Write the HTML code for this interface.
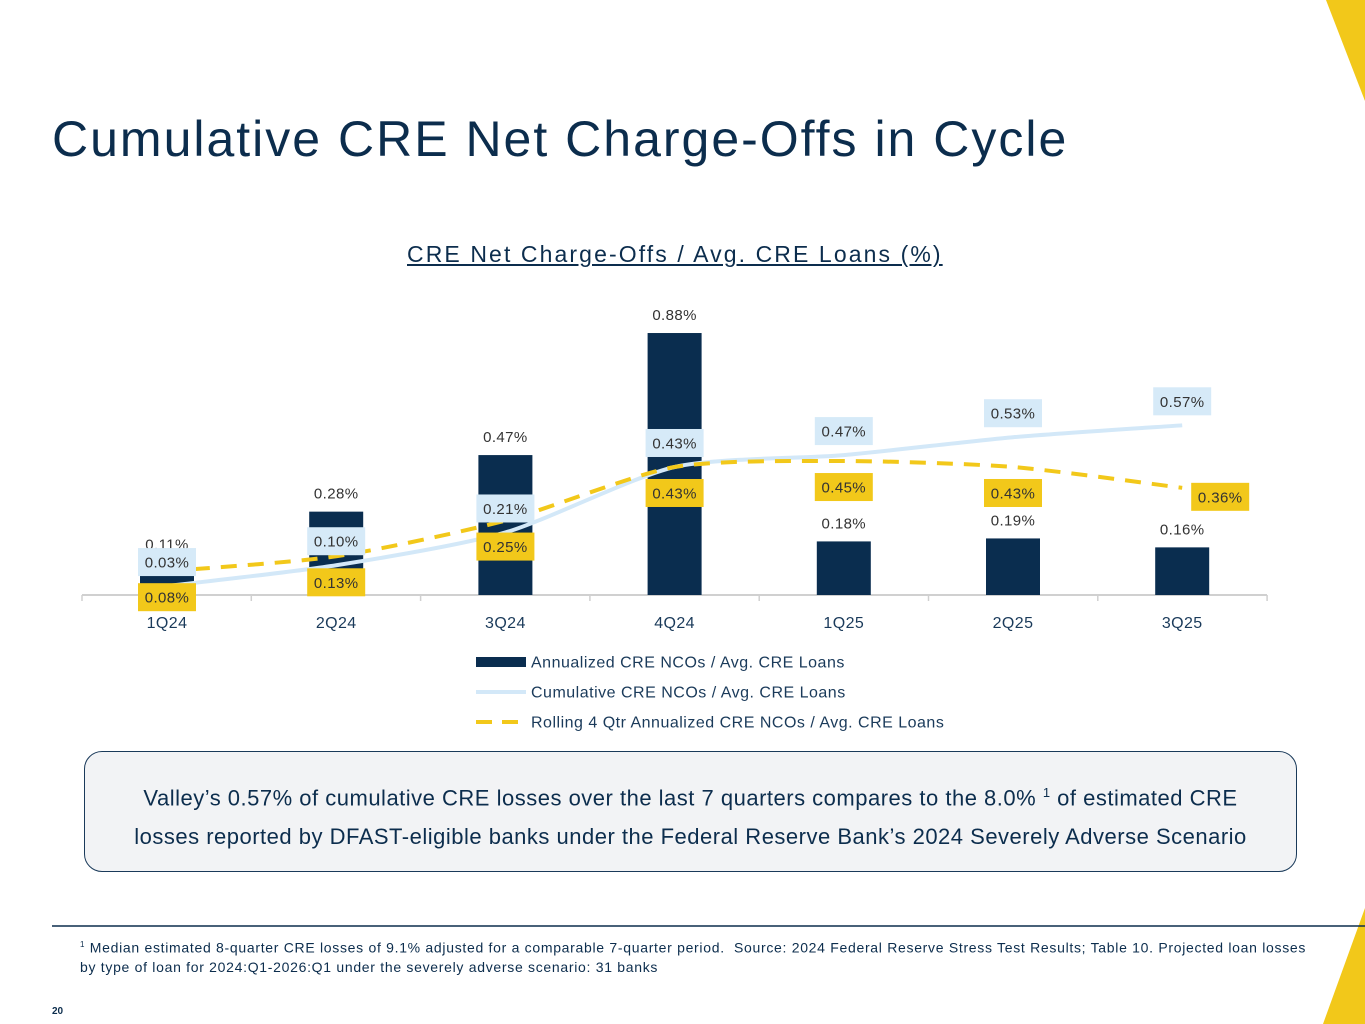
<!DOCTYPE html>
<html><head><meta charset="utf-8"><style>
body{margin:0;width:1365px;height:1024px;overflow:hidden;background:#fff;font-family:"Liberation Sans",sans-serif;position:relative}
.t{position:absolute;white-space:nowrap}
</style></head><body>
<svg style="position:absolute;left:0;top:0" width="1365" height="1024">
<polygon points="1326,0 1365,0 1365,101" fill="#f2c81a"/>
<polygon points="1365,908 1365,1024 1323,1024" fill="#f2c81a"/>
<line x1="52" y1="926" x2="1365" y2="926" stroke="#0c2d4d" stroke-width="1.5"/>
</svg>
<div class="t" style="left:52px;top:110px;font-size:50px;letter-spacing:2px;color:#0c2d4d">Cumulative CRE Net Charge-Offs in Cycle</div>
<div class="t" style="left:407px;top:241px;font-size:23px;letter-spacing:2.1px;color:#0c2d4d;text-decoration:underline">CRE Net Charge-Offs / Avg. CRE Loans (%)</div>
<svg id="chart" style="position:absolute;left:0;top:0" width="1365" height="760"></svg>
<div style="position:absolute;left:84px;top:751px;width:1213px;height:121px;border:1.5px solid #1a3a5a;border-radius:18px;background:#f2f3f5;color:#0c2d4d;font-size:22px;letter-spacing:0.5px;text-align:center;line-height:39px;padding-top:21px;box-sizing:border-box">Valley’s 0.57% of cumulative CRE losses over the last 7 quarters compares to the 8.0% <sup style="font-size:13px">1</sup> of estimated CRE<br>losses reported by DFAST-eligible banks under the Federal Reserve Bank’s 2024 Severely Adverse Scenario</div>
<div class="t" style="left:80px;top:935px;font-size:14px;letter-spacing:0.7px;color:#0c2d4d;line-height:19px"><sup style="font-size:8px">1</sup> Median estimated 8-quarter CRE losses of 9.1% adjusted for a comparable 7-quarter period.&nbsp; Source: 2024 Federal Reserve Stress Test Results; Table 10. Projected loan losses<br>by type of loan for 2024:Q1-2026:Q1 under the severely adverse scenario: 31 banks</div>
<div class="t" style="left:52px;top:1006px;font-size:10px;font-weight:bold;color:#0c2d4d">20</div>
<script>
const categories=["1Q24","2Q24","3Q24","4Q24","1Q25","2Q25","3Q25"];
const annualized=[0.11,0.28,0.47,0.88,0.18,0.19,0.16];
const cumulative=[0.03,0.10,0.21,0.43,0.47,0.53,0.57];
const rolling=[0.08,0.13,0.25,0.43,0.45,0.43,0.36];
const legendLabels=["Annualized CRE NCOs / Avg. CRE Loans","Cumulative CRE NCOs / Avg. CRE Loans","Rolling 4 Qtr Annualized CRE NCOs / Avg. CRE Loans"];
const svg=document.getElementById('chart');const NS='http://www.w3.org/2000/svg';
const x=i=>167+i*169.2, y=v=>595-v*297.7;
function mk(t,a,p){const e=document.createElementNS(NS,t);for(const k in a)e.setAttribute(k,a[k]);(p||svg).appendChild(e);return e;}
const ax=mk('line',{x1:82,y1:595,x2:1267,y2:595,stroke:'#d0d0d0','stroke-width':2});


for(let i=0;i<=7;i++){const tk=mk('line',{x1:82+i*169.3,y1:595,x2:82+i*169.3,y2:601,stroke:'#d0d0d0','stroke-width':1.5});

}
function txt(s,xx,yy,size,fill,name){const t=mk('text',{x:xx,y:yy,'font-size':size,fill:fill,'text-anchor':'middle','font-family':'Liberation Sans, sans-serif','letter-spacing':0.4});t.textContent=s;

return t;}
categories.forEach((c,i)=>{txt(c,x(i),628,16,'#1a3a5a','x-tick-label');
const b=mk('rect',{x:x(i)-27,y:y(annualized[i]),width:54,height:595-y(annualized[i]),fill:'#0a2d4f'});


txt(annualized[i].toFixed(2)+'%',x(i),y(annualized[i])-13,15,'#333','bar-value-label');});
function path(vals){const p=vals.map((v,i)=>[x(i),y(v)]);let d='M'+p[0];for(let i=0;i<p.length-1;i++){const a=p[i-1]||p[i],b=p[i],c=p[i+1],e=p[i+2]||c;const t=0.12;d+=` C${b[0]+(c[0]-a[0])*t},${b[1]+(c[1]-a[1])*t} ${c[0]-(e[0]-b[0])*t},${c[1]-(e[1]-b[1])*t} ${c[0]},${c[1]}`;}return d;}
const l1=mk('path',{d:path(cumulative),fill:'none',stroke:'#d3e8f8','stroke-width':4});


const l2=mk('path',{d:path(rolling),fill:'none',stroke:'#f2c81a','stroke-width':4,'stroke-dasharray':'16,11'});


function box(v,xx,yy,bg,name){const r=mk('rect',{x:xx-29,y:yy-14,width:58,height:28,fill:bg});


txt(v.toFixed(2)+'%',xx,yy+5.5,15,'#333',name);}
cumulative.forEach((v,i)=>box(v,x(i),y(v)-24,'#d6eaf8','cumulative-label'));
rolling.forEach((v,i)=>box(v,x(i)+(i==6?38:0),y(v)+(i==6?9:26),'#f2c81a','rolling-label'));
legendLabels.forEach((s,i)=>{const ly=662+i*30;
let sw;if(i==0)sw=mk('rect',{x:476,y:ly-5,width:50,height:10,fill:'#0a2d4f'});
else sw=mk('line',{x1:476,y1:ly,x2:526,y2:ly,stroke:i==1?'#d3e8f8':'#f2c81a','stroke-width':4,'stroke-dasharray':i==2?'16,10':'none'});


const t=txt(s,531,ly+5.5,16,'#1a3a5a','legend-entry');t.setAttribute('text-anchor','start');t.setAttribute('letter-spacing','0.5');});
</script>
</body></html>
